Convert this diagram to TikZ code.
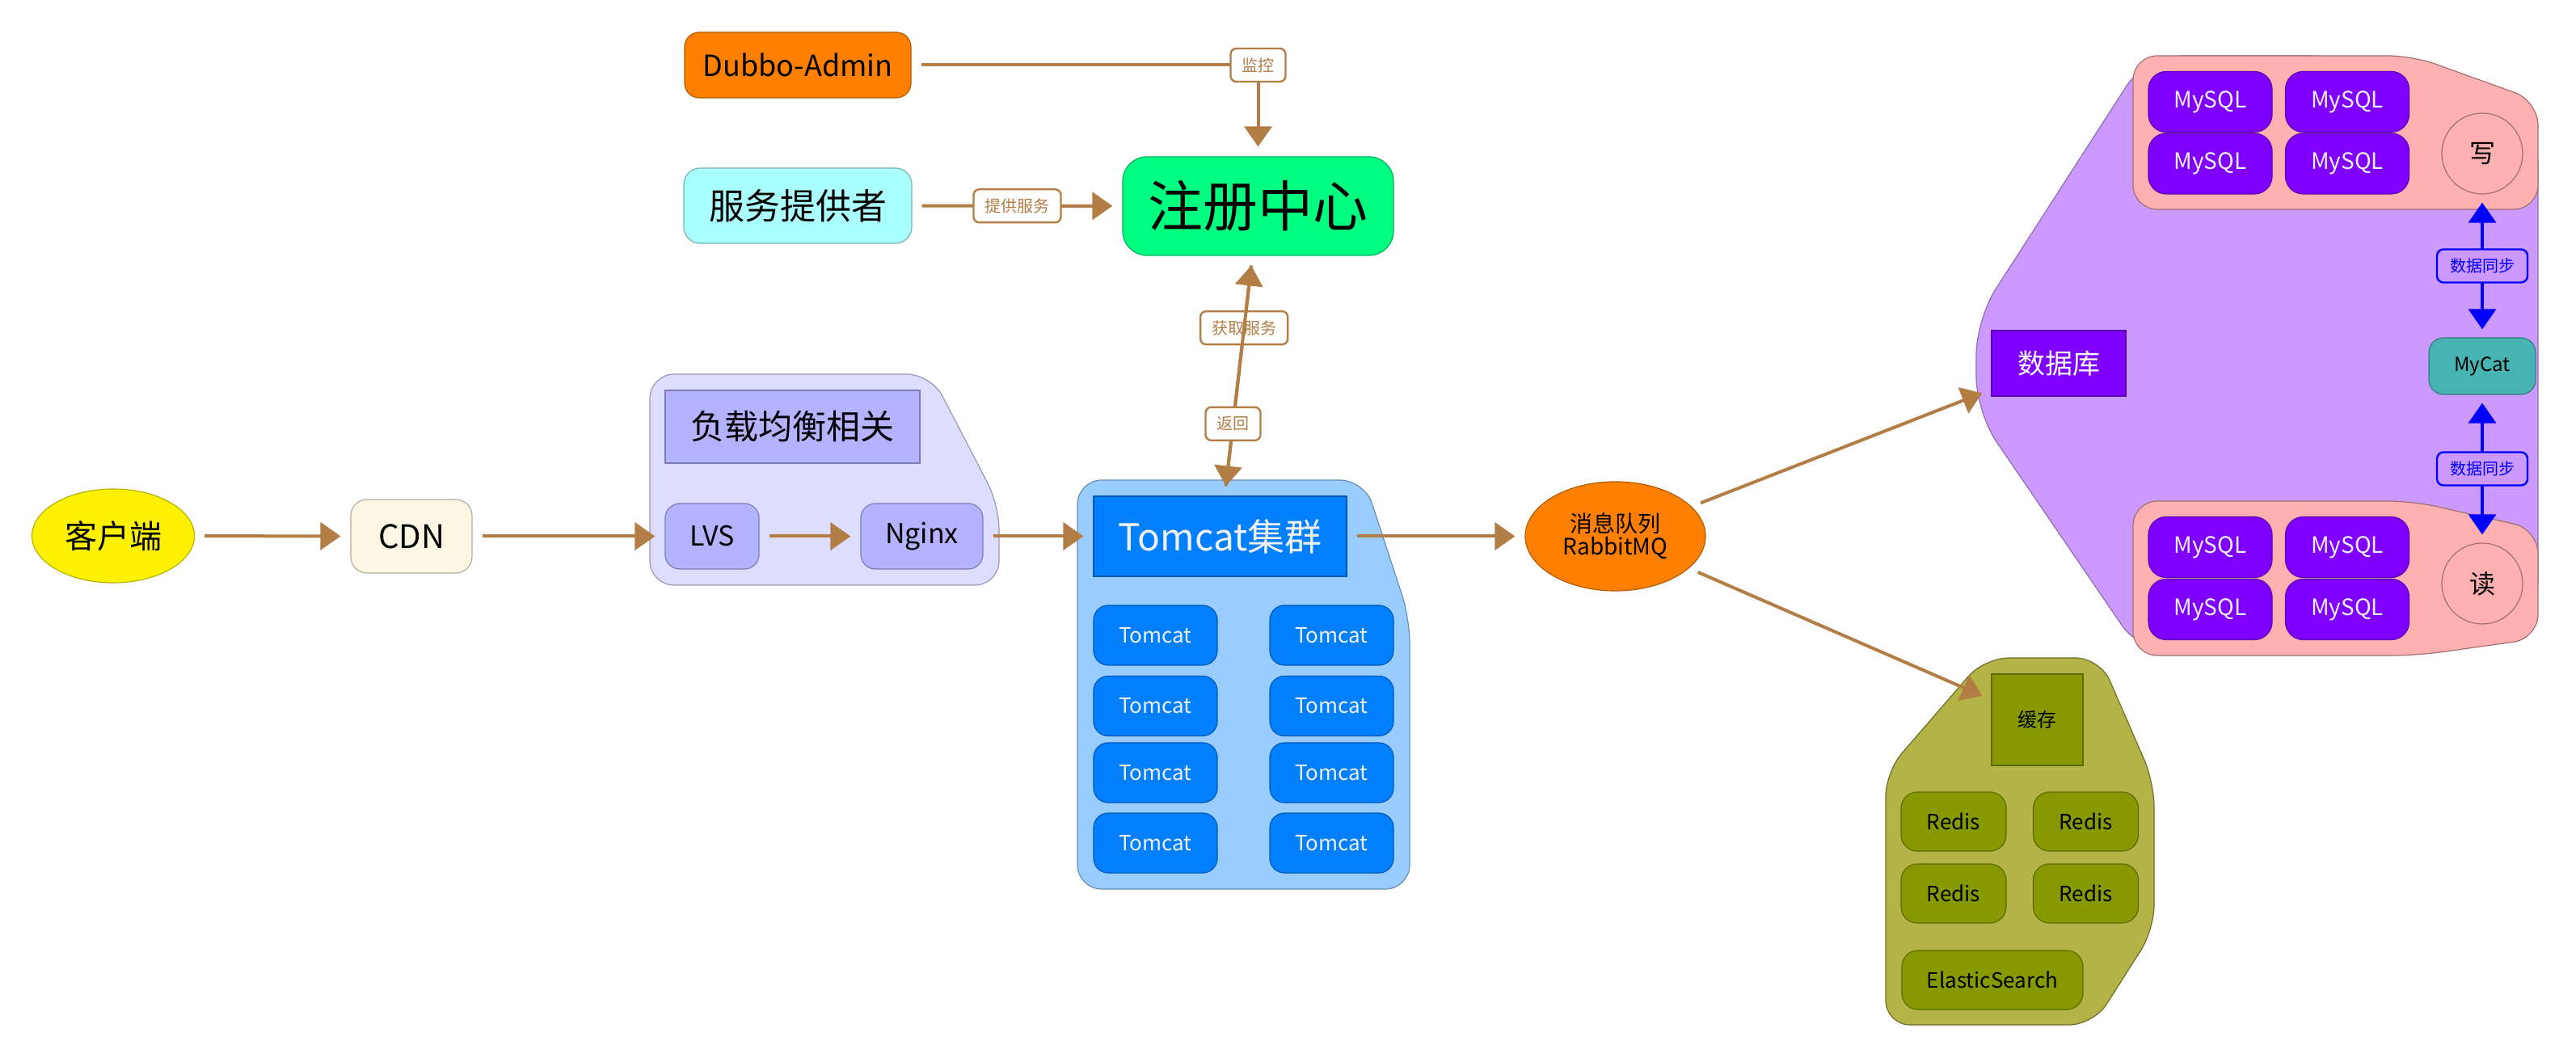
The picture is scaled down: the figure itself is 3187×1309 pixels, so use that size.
\documentclass[tikz,border=0pt]{standalone}
\usepackage{fontspec}
\setmainfont{Noto Sans CJK SC}
\usetikzlibrary{arrows.meta,shapes.geometric}
\definecolor{brn}{RGB}{179,125,70}
\definecolor{orangeF}{RGB}{255,128,0}
\definecolor{orangeD}{RGB}{179,90,0}
\definecolor{cyanF}{RGB}{170,255,255}
\definecolor{cyanD}{RGB}{119,179,179}
\definecolor{greenF}{RGB}{0,255,128}
\definecolor{greenD}{RGB}{0,179,90}
\definecolor{lbG}{RGB}{221,221,255}
\definecolor{lbGD}{RGB}{153,153,179}
\definecolor{lbF}{RGB}{179,179,255}
\definecolor{lbD}{RGB}{125,125,179}
\definecolor{cdnF}{RGB}{253,246,227}
\definecolor{cdnD}{RGB}{179,172,159}
\definecolor{yelD}{RGB}{179,179,0}
\definecolor{tcG}{RGB}{153,204,255}
\definecolor{tcGD}{RGB}{107,143,179}
\definecolor{tcF}{RGB}{0,127,255}
\definecolor{tcD}{RGB}{0,89,179}
\definecolor{caG}{RGB}{179,179,71}
\definecolor{caGD}{RGB}{110,110,40}
\definecolor{caF}{RGB}{134,153,0}
\definecolor{caD}{RGB}{93,107,0}
\definecolor{dbG}{RGB}{204,153,255}
\definecolor{dbGD}{RGB}{143,107,179}
\definecolor{pkF}{RGB}{255,176,176}
\definecolor{pkD}{RGB}{160,112,112}
\definecolor{myF}{RGB}{128,0,255}
\definecolor{myD}{RGB}{90,0,179}
\definecolor{mcF}{RGB}{71,179,179}
\definecolor{mcD}{RGB}{50,125,125}
\definecolor{lightT}{RGB}{240,240,240}
\newcommand{\fsz}[1]{\fontsize{#1}{#1}\selectfont}
\tikzset{
  arr/.style={draw=brn, line width=2pt, -{Triangle[width=17pt,length=12.5pt]}, shorten >=6pt, shorten <=6pt},
  lab/.style={draw=brn, line width=1.2pt, fill=white, rounded corners=3.5pt, text=brn, font=\fsz{10}, inner xsep=7pt, inner ysep=0pt, minimum height=20.5pt},
  barr/.style={draw=blue, line width=1.8pt, {Triangle[width=17pt,length=12.5pt]}-{Triangle[width=17pt,length=12.5pt]}, shorten >=5pt, shorten <=5pt},
  blab/.style={draw=blue, line width=1.2pt, fill=dbG, rounded corners=4pt, text=blue, font=\fsz{10}, minimum width=56pt, minimum height=20.5pt, inner sep=0pt},
  box/.style={rectangle, line width=0.6pt, inner sep=0pt},
  grp/.style={line width=0.6pt, rounded corners=15pt},
  tcbox/.style={box, rounded corners=9pt, fill=tcF, draw=tcD, text=lightT, font=\fsz{13}, minimum width=76.5pt, minimum height=37pt},
  rdbox/.style={box, rounded corners=10pt, fill=caF, draw=caD, font=\fsz{13}, minimum width=65pt, minimum height=36.5pt},
  mybox/.style={box, rounded corners=11pt, fill=myF, draw=myD, text=lightT, font=\fsz{14}, minimum width=76.5pt, minimum height=37.5pt},
  rwcirc/.style={circle, line width=0.6pt, fill=pkF, draw=pkD, minimum size=50pt, inner sep=0pt, font=\fsz{16}},
}
\begin{document}
\begin{tikzpicture}[x=0.5pt,y=-0.5pt]
\useasboundingbox[fill=white] (0,0) rectangle (3187,1309);

% ---------- groups ----------
\draw[grp, fill=lbG, draw=lbGD] (804,463) -- (1152,463) -- (1236,625) -- (1236,724) -- (804,724) -- cycle;
\draw[grp, fill=tcG, draw=tcGD] (1333,594) -- (1688,594) -- (1744,765) -- (1744,1100) -- (1333,1100) -- cycle;
\draw[grp, fill=caG, draw=caGD] (2333,1268) -- (2333,955) -- (2455,814) -- (2598,814) -- (2665,968) -- (2665,1150) -- (2590,1268) -- cycle;
\draw[grp, rounded corners=22pt, fill=dbG, draw=dbGD] (2655,69) -- (2900,69) -- (3140,160) -- (3140,760) -- (2900,810) -- (2650,810) -- (2445,510) -- (2445,395) -- cycle;
\draw[grp, fill=pkF, draw=pkD] (2639,69) -- (2985,69) -- (3140,125) -- (3140,259) -- (2639,259) -- cycle;
\draw[grp, fill=pkF, draw=pkD] (2639,620) -- (2985,620) -- (3140,655) -- (3140,790) -- (2990,811) -- (2639,811) -- cycle;

% ---------- nodes ----------
\node[box, rounded corners=9pt, fill=orangeF, draw=orangeD, font=\fsz{18}, minimum width=140pt, minimum height=40.5pt] (dubbo) at (987,80.5) {Dubbo-Admin};
\node[box, rounded corners=10pt, fill=cyanF, draw=cyanD, font=\fsz{22}, minimum width=141pt, minimum height=46.5pt] (provider) at (987,254.5) {服务提供者};
\node[box, rounded corners=15pt, fill=greenF, draw=greenD, font=\fsz{34}, minimum width=167.5pt, minimum height=61pt] (reg) at (1556.5,255) {注册中心};

\node[ellipse, line width=0.6pt, fill=yellow, draw=yelD, font=\fsz{20}, minimum width=100.5pt, minimum height=58pt, inner sep=0pt] (client) at (140,663) {客户端};
\node[box, rounded corners=10pt, fill=cdnF, draw=cdnD, font=\fsz{20}, minimum width=75pt, minimum height=45.5pt] (cdn) at (509,663.5) {CDN};

\node[box, fill=lbF, draw=lbD, font=\fsz{21}, minimum width=157.5pt, minimum height=45pt] (lbtitle) at (980.5,528) {负载均衡相关};
\node[box, rounded corners=9pt, fill=lbF, draw=lbD, font=\fsz{17}, minimum width=58pt, minimum height=40.5pt] (lvs) at (881,663.5) {LVS};
\node[box, rounded corners=9pt, fill=lbF, draw=lbD, font=\fsz{17}, minimum width=75.5pt, minimum height=40.5pt] (nginx) at (1140.5,663.5) {Nginx};

\node[box, fill=tcF, draw=tcD, text=lightT, font=\fsz{23}, minimum width=156.5pt, minimum height=49.5pt] (tctitle) at (1509.5,663.5) {Tomcat集群};
\node[tcbox] (tc1) at (1429.5,786) {Tomcat};
\node[tcbox] (tc2) at (1647.5,786) {Tomcat};
\node[tcbox] (tc3) at (1429.5,873.5) {Tomcat};
\node[tcbox] (tc4) at (1647.5,873.5) {Tomcat};
\node[tcbox] (tc5) at (1429.5,956) {Tomcat};
\node[tcbox] (tc6) at (1647.5,956) {Tomcat};
\node[tcbox] (tc7) at (1429.5,1043) {Tomcat};
\node[tcbox] (tc8) at (1647.5,1043) {Tomcat};

\node[ellipse, line width=0.6pt, fill=orangeF, draw=orangeD, font=\fsz{14}, align=center, minimum width=111.5pt, minimum height=67.5pt, inner sep=0pt] (mq) at (1998.5,663.5) {消息队列\\RabbitMQ};

\node[box, fill=caF, draw=caD, font=\fsz{12}, minimum width=56.5pt, minimum height=56.5pt] (cachet) at (2520.5,890.5) {缓存};
\node[rdbox] (rd1) at (2417,1016.5) {Redis};
\node[rdbox] (rd2) at (2580.5,1016.5) {Redis};
\node[rdbox] (rd3) at (2417,1105.5) {Redis};
\node[rdbox] (rd4) at (2580.5,1105.5) {Redis};
\node[rdbox, minimum width=112pt] (es) at (2465,1212.5) {ElasticSearch};

\node[box, fill=myF, draw=myD, text=white, font=\fsz{17}, minimum width=83pt, minimum height=40.5pt] (dbt) at (2547,449.5) {数据库};
\node[mybox] (my1) at (2734.5,126) {MySQL};
\node[mybox] (my2) at (2904,126) {MySQL};
\node[mybox] (my3) at (2734.5,202.5) {MySQL};
\node[mybox] (my4) at (2904,202.5) {MySQL};
\node[mybox] (my5) at (2734.5,677) {MySQL};
\node[mybox] (my6) at (2904,677) {MySQL};
\node[mybox] (my7) at (2734.5,754) {MySQL};
\node[mybox] (my8) at (2904,754) {MySQL};
\node[rwcirc] (wr) at (3071,190) {写};
\node[rwcirc] (rdc) at (3071,722) {读};
\node[box, rounded corners=9pt, fill=mcF, draw=mcD, font=\fsz{12}, minimum width=66pt, minimum height=35pt] (mycat) at (3071,453) {MyCat};

% ---------- connectors ----------
\draw[arr] (client) -- (cdn);
\draw[arr] (cdn) -- (lvs);
\draw[arr] (lvs) -- (nginx);
\draw[arr] (nginx) -- (tctitle);
\draw[arr] (tctitle) -- (mq);
\draw[arr] (mq) -- (dbt);
\draw[arr] (mq) -- (cachet);
\draw[arr] (provider) -- node[lab]{提供服务} (reg);
\draw[arr] (dubbo) -| node[lab, pos=0.5]{监控} (reg);
\draw[arr] (tctitle) -- node[lab, pos=0.7]{获取服务} (reg);
\draw[arr] (reg) -- node[lab, pos=0.7]{返回} (tctitle);

\draw[barr] (wr) -- node[blab]{数据同步} (mycat);
\draw[barr] (mycat) -- node[blab]{数据同步} (rdc);
\end{tikzpicture}
\end{document}
